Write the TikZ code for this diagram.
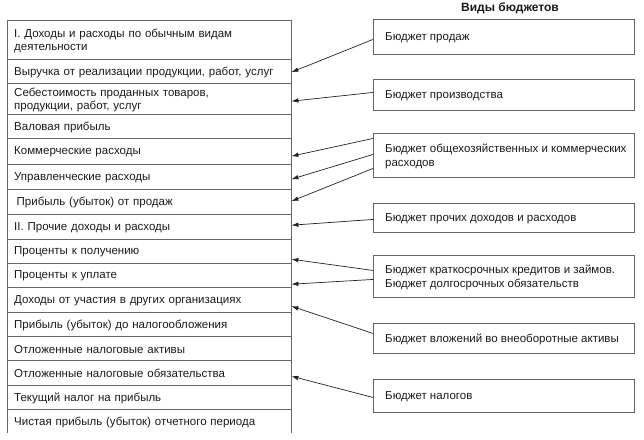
\documentclass[tikz,border=0pt]{standalone}
\usepackage{fontspec}
\setmainfont{Liberation Sans}
\usetikzlibrary{arrows.meta,calc}
\definecolor{txt}{HTML}{1A1A1A}
\definecolor{frame}{HTML}{666666}
\definecolor{arrc}{HTML}{222222}
\begin{document}
\begin{tikzpicture}[x=1pt,y=-1pt,
 row/.style={anchor=north west, minimum width=284pt, text width=270pt, inner xsep=7pt, inner ysep=0pt, align=left, font=\fontsize{11.5}{13}\selectfont, text=txt},
 bbox/.style={draw=frame, line width=0.9pt, anchor=north west, minimum width=261pt, inner sep=0pt},
 btext/.style={anchor=west, align=left, inner sep=0pt, font=\fontsize{11.5}{14.5}\selectfont, text=txt},
 tline/.style={draw=frame, line width=0.9pt},
 arr/.style={draw=arrc, line width=0.7pt, -{Latex[length=7pt,width=4.5pt]}}]
\useasboundingbox (0,0) rectangle (644,439);

% title
\node[font=\bfseries\fontsize{12}{14}\selectfont, text=txt] (title) at (510,8) {Виды бюджетов};

% table rows
\node[row, minimum height=39pt] (r1) at (7,21) {I. Доходы и расходы по обычным видам\\деятельности};
\node[row, minimum height=24pt] (r2) at (7,60) {Выручка от реализации продукции, работ, услуг};
\node[row, minimum height=31pt] (r3) at (7,84) {Себестоимость проданных товаров,\\продукции, работ, услуг};
\node[row, minimum height=24pt] (r4) at (7,115) {Валовая прибыль};
\node[row, minimum height=26pt] (r5) at (7,139) {Коммерческие расходы};
\node[row, minimum height=25pt] (r6) at (7,165) {Управленческие расходы};
\node[row, minimum height=25pt] (r7) at (7,190) {\hspace*{2.5pt}Прибыль (убыток) от продаж};
\node[row, minimum height=25pt] (r8) at (7,215) {II. Прочие доходы и расходы};
\node[row, minimum height=24pt] (r9) at (7,240) {Проценты к получению};
\node[row, minimum height=24pt] (r10) at (7,264) {Проценты к уплате};
\node[row, minimum height=25pt] (r11) at (7,288) {Доходы от участия в других организациях};
\node[row, minimum height=24pt] (r12) at (7,313) {Прибыль (убыток) до налогообложения};
\node[row, minimum height=24pt] (r13) at (7,337) {Отложенные налоговые активы};
\node[row, minimum height=25pt] (r14) at (7,361) {Отложенные налоговые обязательства};
\node[row, minimum height=24pt] (r15) at (7,386) {Текущий налог на прибыль};
\node[row, minimum height=24pt] (r16) at (7,410) {Чистая прибыль (убыток) отчетного периода};

% table lines
\foreach \r in {r1,r2,r3,r4,r5,r6,r7,r8,r9,r10,r11,r12,r13,r14,r15,r16}
  \draw[tline] ([yshift=1pt]\r.north west) -- ([yshift=1pt]\r.north east);
\draw[tline] ([yshift=1pt]r1.north west) -- ([yshift=1pt]r16.south west);
\draw[tline] ([yshift=1pt]r1.north east) -- ([yshift=1pt]r16.south east);

% budget boxes
\node[bbox, minimum height=35pt] (b1) at (373,19) {};
\node[bbox, minimum height=31pt] (b2) at (373,79) {};
\node[bbox, minimum height=44pt] (b3) at (373,133) {};
\node[bbox, minimum height=29pt] (b4) at (373,203) {};
\node[bbox, minimum height=42pt] (b5) at (373,255) {};
\node[bbox, minimum height=30pt] (b6) at (373,323) {};
\node[bbox, minimum height=33pt] (b7) at (373,379) {};

\node[btext] (t1) at ([xshift=12pt,yshift=-1pt]b1.west) {Бюджет продаж};
\node[btext] (t2) at ([xshift=12pt,yshift=-1pt]b2.west) {Бюджет производства};
\node[btext] (t3) at ([xshift=12pt,yshift=-1pt]b3.west) {Бюджет общехозяйственных и коммерческих\\расходов};
\node[btext] (t4) at ([xshift=12pt,yshift=-1pt]b4.west) {Бюджет прочих доходов и расходов};
\node[btext] (t5) at ([xshift=12pt,yshift=-1pt]b5.west) {Бюджет краткосрочных кредитов и займов.\\Бюджет долгосрочных обязательств};
\node[btext] (t6) at ([xshift=12pt,yshift=-1pt]b6.west) {Бюджет вложений во внеоборотные активы};
\node[btext] (t7) at ([xshift=12pt,yshift=-1pt]b7.west) {Бюджет налогов};

% arrows
\draw[arr] ([yshift=-2.5pt]b1.west) -- ([yshift=0pt]r2.east);
\draw[arr] ([yshift=2.5pt]b2.west) -- ([yshift=-1.5pt]r3.east);
\draw[arr] ([yshift=17pt]b3.west) -- ([yshift=-4pt]r5.east);
\draw[arr] ([yshift=1pt]b3.west) -- ([yshift=-1.5pt]r6.east);
\draw[arr] ([yshift=-13pt]b3.west) -- ([yshift=1.5pt]r7.east);
\draw[arr] ([yshift=-1.5pt]b4.west) -- ([yshift=2.5pt]r8.east);
\draw[arr] ([yshift=6pt]b5.west) -- ([yshift=-7pt]r9.east);
\draw[arr] ([yshift=-3pt]b5.west) -- ([yshift=-8pt]r10.east);
\draw[arr] ([yshift=5pt]b6.west) -- ([yshift=-5.5pt]r11.east);
\draw[arr] ([yshift=-1.5pt]b7.west) -- ([yshift=-2.5pt]r14.east);
\end{tikzpicture}
\end{document}
